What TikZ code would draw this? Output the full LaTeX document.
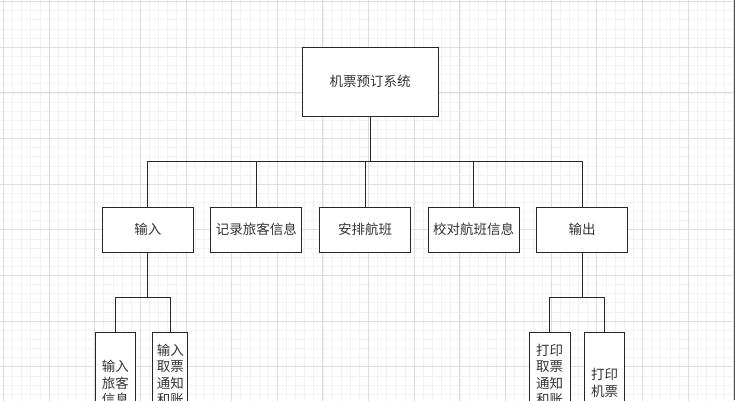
\documentclass[tikz,border=0pt]{standalone}
\usepackage{fontspec}
\usetikzlibrary{trees}
\setmainfont{Noto Sans CJK SC}
\definecolor{gridminor}{HTML}{F2F2F2}
\definecolor{gridmajor}{HTML}{DDDDDD}
\definecolor{inkgray}{HTML}{333333}
\tikzset{
  rootbox/.style={draw=black!85, line width=1pt, fill=white, text=inkgray, inner sep=0pt,
    minimum width=136pt, minimum height=69pt, font=\fontsize{13.5pt}{16.5pt}\selectfont},
  midbox/.style={rootbox, minimum width=91pt, minimum height=45pt},
  leafbox/.style={rootbox, align=center, minimum height=102pt}
}
\begin{document}
\begin{tikzpicture}[
    x=1pt, y=1pt,
    level 1/.style={grow via three points={one child at (-5pt,-148pt) and two children at (-59.3pt,-148pt) and (49.3pt,-148pt)}},
    level 2/.style={grow via three points={one child at (-5pt,-153.5pt) and two children at (-32.5pt,-153.5pt) and (22.5pt,-153.5pt)}},
    edge from parent/.style={draw=black!85, line width=1pt},
    edge from parent path={(\tikzparentnode.south) -- ++(0,-45) -| (\tikzchildnode.north)}
  ]
  \useasboundingbox (0,0) rectangle (735,-400);
  \clip (0,0) rectangle (735,-400);
  \fill[white] (0,0) rectangle (735,-400);

  % grid paper
  \draw[gridminor, line width=0.6pt, xshift=3.3pt, yshift=-1.5pt] (-10,10) grid[step=9.13pt] (745,-410);
  \draw[gridmajor, line width=0.8pt, xshift=3.3pt, yshift=-1.5pt] (-50,50) grid[step=45.65pt] (780,-450);
  \draw[black!70, line width=0.8pt] (734.5,0) -- (734.5,-400);

  \node[rootbox] (sys) at (370,-81.5) {机票预订系统}
  child {
      node[midbox] (in) {输入}
      child {node[leafbox, minimum width=40pt] (inPass) {输入\\旅客\\信息}}
      child {node[leafbox, minimum width=35pt] (inBill) {输入\\取票\\通知\\和账\\单}}
    }
  child {node[midbox] (rec) {记录旅客信息}}
  child {node[midbox] (plan) {安排航班}}
  child {node[midbox] (check) {校对航班信息}}
  child {
      node[midbox] (out) {输出}
      child {node[leafbox, minimum width=41pt] (outBill) {打印\\取票\\通知\\和账\\单}}
      child {node[leafbox, minimum width=40pt] (outTicket) {打印\\机票}}
    };
\end{tikzpicture}
\end{document}
